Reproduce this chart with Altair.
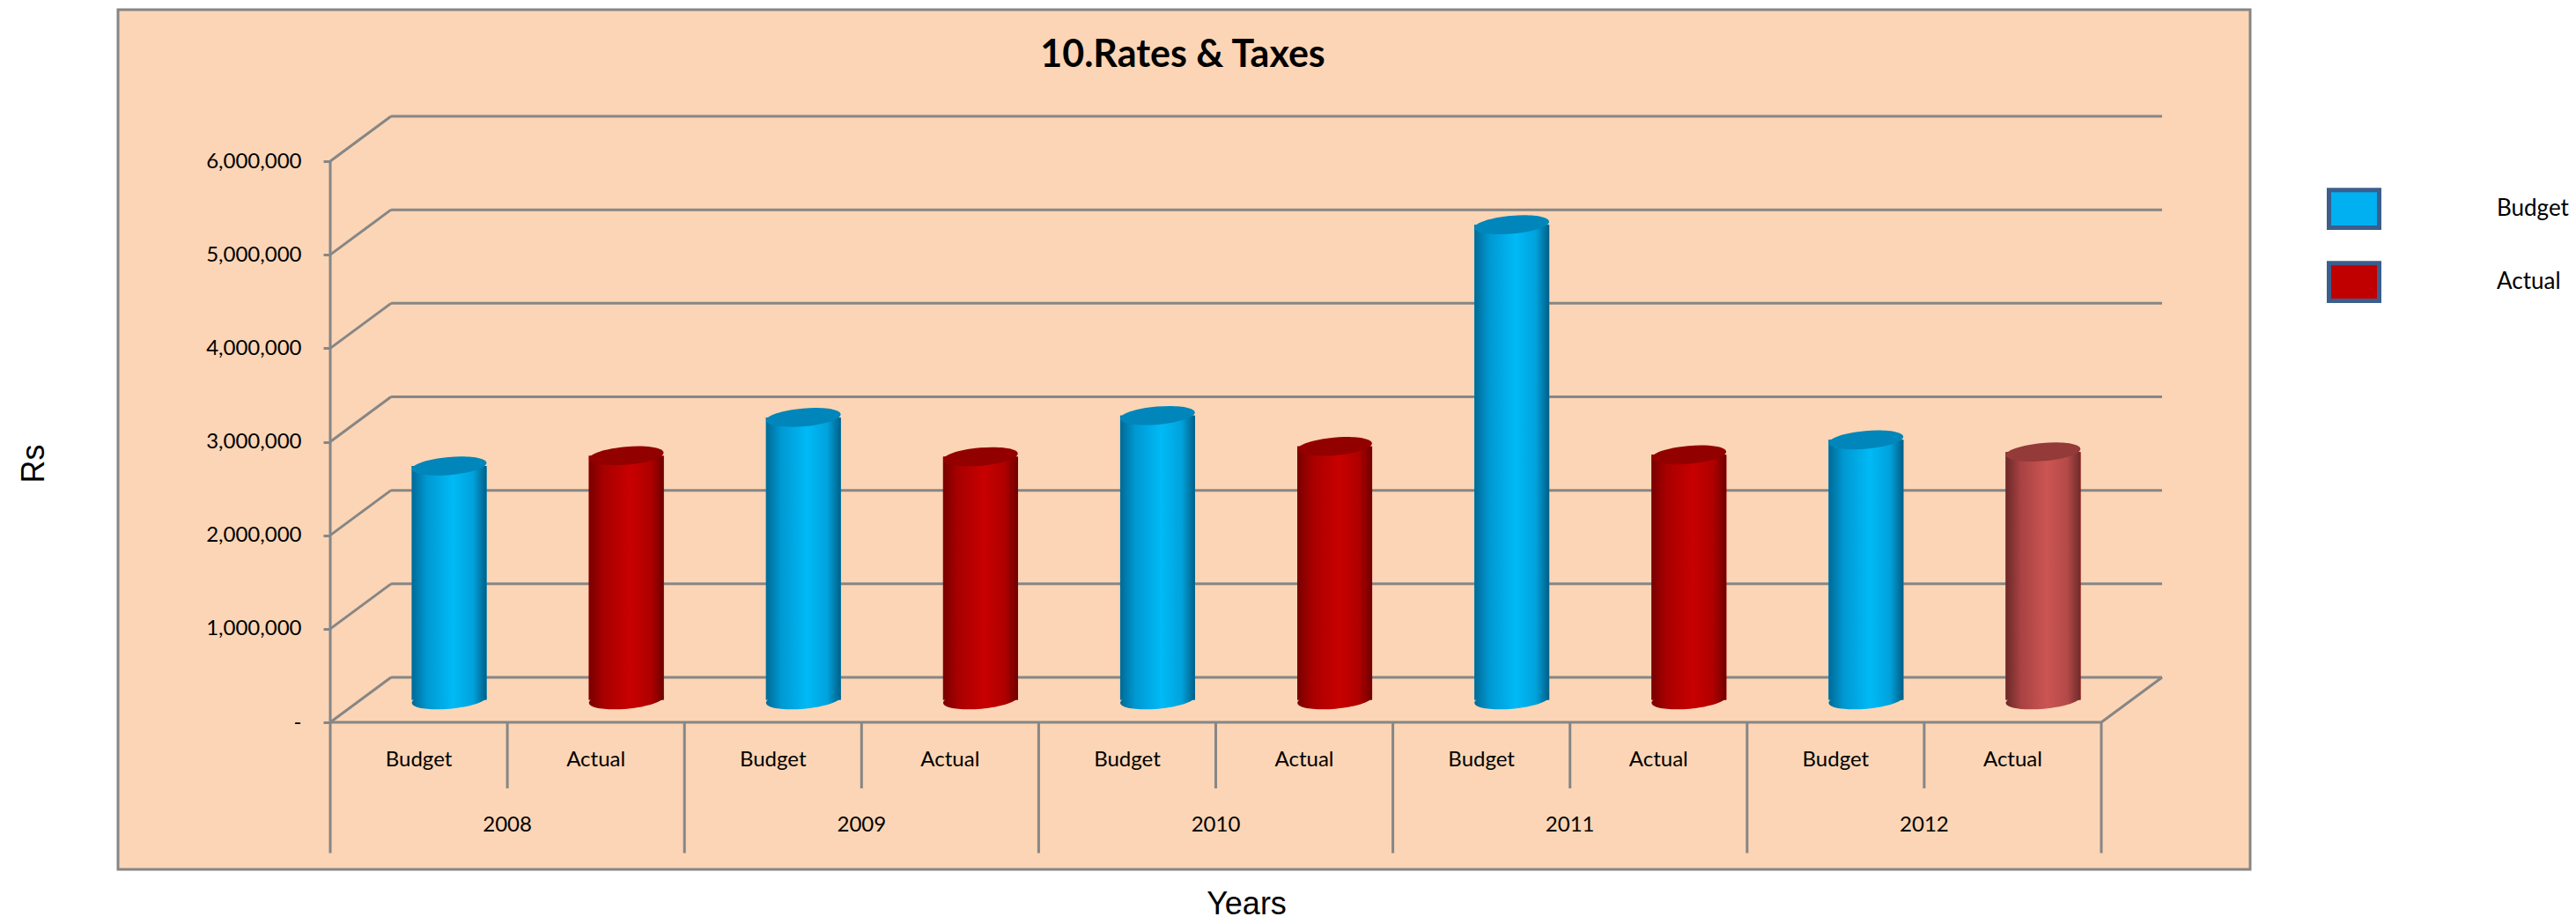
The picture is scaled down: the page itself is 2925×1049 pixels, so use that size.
import altair as alt
import pandas as pd

# ---------------- data ----------------
TITLE = "10.Rates & Taxes"
years = ["2008", "2009", "2010", "2011", "2012"]
series_names = ["Budget", "Actual"]
budget = [2500000, 3020000, 3040000, 5080000, 2780000]
actual = [2610000, 2600000, 2710000, 2620000, 2650000]
y_ticks = [0, 1000000, 2000000, 3000000, 4000000, 5000000, 6000000]
y_title = "Rs"
x_title = "Years"

rows = []
for k, yr in enumerate(years):
    for j, (s, vals) in enumerate(zip(series_names, [budget, actual])):
        rows.append({"year": yr, "series": s, "value": vals[k], "slot": 2 * k + j})
bars_df = pd.DataFrame(rows)
n_slots = len(bars_df)
bounds_df = pd.DataFrame({"b": list(range(n_slots + 1))})
years_df = pd.DataFrame({"year": years, "slot": [2 * k for k in range(len(years))]})
ticks_df = pd.DataFrame({"v": y_ticks})
one_df = pd.DataFrame({"v": [0]})
title_df = pd.DataFrame({"t": [TITLE]})

# ---------------- layout / style ----------------
W, H = 2421, 976
FLOOR_Y = 809.0            # plot px of value 0 on the front edge
PX_PER_VAL = 637.0 / 6e6
AXIS_X = 241.0             # plot px of the vertical axis
SLOT_W = 201.1
DX, DY = 69, -51           # 3D depth of the back wall
BX, BY = 34.5, -25.5       # depth of the bars (middle)
BAR_W = 85
GRAY = "#868686"
PEACH = "#FBD5B5"

ymax = FLOOR_Y / PX_PER_VAL
ymin = -(H - FLOOR_Y) / PX_PER_VAL
xmin = -AXIS_X / SLOT_W
xmax = (W - AXIS_X) / SLOT_W
xs = alt.Scale(domain=[xmin, xmax], nice=False, zero=False, padding=0)
ys = alt.Scale(domain=[ymin, ymax], nice=False, zero=False, padding=0)

x_axis = alt.Axis(title=x_title, labels=False, ticks=False, domain=False, grid=False,
                  titleX=1281, titleY=1015 - H, titleFont="Liberation Sans",
                  titleFontSize=36, titleFontWeight="normal", titleColor="black",
                  titleAlign="center", titleBaseline="middle")
y_axis = alt.Axis(title=y_title, values=y_ticks, offset=-AXIS_X, domain=False, grid=False,
                  tickSize=8, tickWidth=3, tickColor=GRAY,
                  labelFont="Lato", labelFontSize=24, labelColor="black", labelPadding=25,
                  labelExpr="datum.value == 0 ? '-\u00a0\u00a0' : format(datum.value, ',')",
                  titleFont="Liberation Sans", titleFontSize=36, titleFontWeight="normal",
                  titleColor="black", titleAngle=270, titleX=-96 - AXIS_X, titleY=515,
                  titleAlign="center", titleBaseline="middle")


def grad(stops):
    return alt.Gradient(gradient="linear", x1=0, x2=1, y1=0, y2=0,
                        stops=[alt.GradientStop(color=c, offset=o) for o, c in stops])


blue_grad = grad([(0, "#006A96"), (0.2, "#0098D2"), (0.55, "#00BAF6"), (0.82, "#00A2DC"), (1, "#005E86")])
red_grad = grad([(0, "#780000"), (0.2, "#A80000"), (0.55, "#C80000"), (0.82, "#B00000"), (1, "#700000")])
pink_grad = grad([(0, "#6A2828"), (0.2, "#A84242"), (0.55, "#CB5552"), (0.82, "#B44A48"), (1, "#6E2A2A")])
ELLIPSE = "M -1 0 A 1 0.24 0 1 1 1 0 A 1 0.24 0 1 1 -1 0 Z"
RECT_SYM = "M -1 -0.75 L 1 -0.75 L 1 0.75 L -1 0.75 Z"


def X(field):
    return alt.X(field, scale=xs, axis=x_axis)


def Y(field):
    return alt.Y(field, scale=ys, axis=y_axis)


def XD(v):
    return alt.XDatum(v, scale=xs, axis=x_axis, type="quantitative")


def YD(v):
    return alt.YDatum(v, scale=ys, axis=y_axis, type="quantitative")


# back wall gridlines
grid_back = alt.Chart(ticks_df).mark_rule(color=GRAY, strokeWidth=3, xOffset=DX, x2Offset=DX, yOffset=DY).encode(
    x=XD(0), x2=alt.X2Datum(n_slots), y=Y("v:Q"))
# side wall diagonals
grid_side = alt.Chart(ticks_df).mark_rule(color=GRAY, strokeWidth=3, x2Offset=DX, y2Offset=DY).encode(
    x=XD(0), x2=alt.X2Datum(0), y=Y("v:Q"), y2=alt.Y2("v:Q"))
floor_right = alt.Chart(one_df).mark_rule(color=GRAY, strokeWidth=3, x2Offset=DX, y2Offset=DY).encode(
    x=XD(n_slots), x2=alt.X2Datum(n_slots), y=Y("v:Q"), y2=alt.Y2("v:Q"))
floor_front = alt.Chart(one_df).mark_rule(color=GRAY, strokeWidth=3).encode(
    x=XD(0), x2=alt.X2Datum(n_slots), y=Y("v:Q"))
axis_line = alt.Chart(one_df).mark_rule(color=GRAY, strokeWidth=3).encode(
    x=XD(0), y=Y("v:Q"), y2=alt.Y2Datum(y_ticks[-1]))
div_year = alt.Chart(bounds_df).transform_filter("datum.b % 2 == 0").mark_rule(
    color=GRAY, strokeWidth=3).encode(x=X("b:Q"), y=YD(0), y2=alt.value(957.5))
div_series = alt.Chart(bounds_df).transform_filter("datum.b % 2 == 1").mark_rule(
    color=GRAY, strokeWidth=3).encode(x=X("b:Q"), y=YD(0), y2=alt.value(884))

base = alt.Chart(bars_df).transform_calculate(xc="datum.slot + 0.5")

legend = alt.Legend(title=None, orient="none", legendX=2508, legendY=195, padding=0,
                    symbolType=RECT_SYM, symbolSize=3249, symbolStrokeColor="#3B5E8C",
                    symbolStrokeWidth=5, symbolOpacity=1, labelFont="Lato", labelFontSize=26,
                    labelColor="black", labelOffset=131, rowPadding=19)

bars_flat = base.mark_bar(size=BAR_W, xOffset=BX, yOffset=BY, y2Offset=BY).encode(
    x=X("xc:Q"), y=Y("value:Q"),
    color=alt.Color("series:N", scale=alt.Scale(domain=series_names, range=["#00B0F0", "#C00000"]),
                    legend=legend))

is_budget = "datum.series == 'Budget'"
is_pink = "datum.series == 'Actual' && datum.year == '2012'"
is_red = "datum.series == 'Actual' && datum.year != '2012'"

layers_bars = []
for test, g, top in [(is_budget, blue_grad, "#0086BA"), (is_red, red_grad, "#930000"), (is_pink, pink_grad, "#943A39")]:
    sub = base.transform_filter(test)
    bottom = sub.mark_point(shape=ELLIPSE, size=BAR_W * BAR_W, filled=True, opacity=1, color=g,
                            xOffset=BX, yOffset=BY, angle=355).encode(x=X("xc:Q"), y=YD(0))
    body = sub.mark_bar(size=BAR_W, color=g, xOffset=BX, yOffset=BY, y2Offset=BY).encode(
        x=X("xc:Q"), y=Y("value:Q"))
    cap = sub.mark_point(shape=ELLIPSE, size=BAR_W * BAR_W, filled=True, opacity=1, color=top,
                         xOffset=BX, yOffset=BY, angle=355).encode(x=X("xc:Q"), y=Y("value:Q"))
    layers_bars += [bottom, body, cap]

series_labels = base.mark_text(font="Lato", fontSize=24, color="black", baseline="middle").encode(
    x=X("xc:Q"), y=alt.value(852), text="series:N")
year_labels = alt.Chart(years_df).transform_calculate(mid="datum.slot + 1").mark_text(
    font="Lato", fontSize=24, color="black", baseline="middle").encode(
    x=X("mid:Q"), y=alt.value(926), text="year:N")
title_txt = alt.Chart(title_df).mark_text(font="Lato", fontSize=43, fontWeight="bold", color="black",
                                          baseline="middle", align="center").encode(
    x=alt.value(1209), y=alt.value(51.5), text="t:N")

chart = alt.layer(
    grid_back, grid_side, floor_right, floor_front, axis_line, div_year, div_series,
    bars_flat, *layers_bars, series_labels, year_labels, title_txt
).properties(
    width=W, height=H,
    autosize=alt.AutoSizeParams(type="none"),
    padding={"left": 126, "top": 3, "right": 362, "bottom": 62},
).configure_view(fill=PEACH, stroke=GRAY, strokeWidth=3)

chart.save("out.html", embed_options={"renderer": "svg", "actions": False})
